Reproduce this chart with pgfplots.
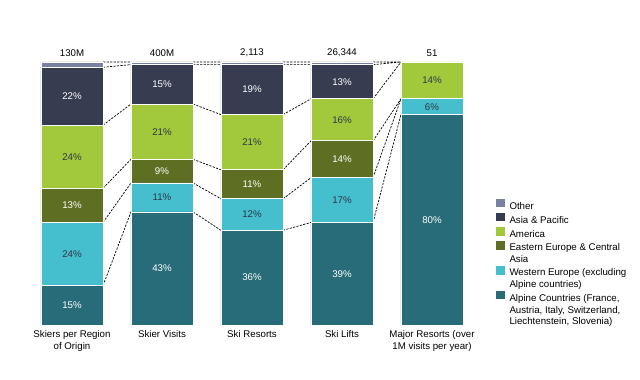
\documentclass[border=0pt]{standalone}
\usepackage{pgfplots}
\pgfplotsset{compat=1.18}
\usepackage{fontspec}
\setmainfont{Liberation Sans}
\definecolor{cOther}{HTML}{7882A0}
\definecolor{cAsia}{HTML}{373C50}
\definecolor{cAmer}{HTML}{A2C83C}
\definecolor{cEast}{HTML}{5E6E23}
\definecolor{cWest}{HTML}{45BECD}
\definecolor{cAlp}{HTML}{276C78}
\definecolor{cDark}{HTML}{2E3648}
\DeclareRobustCommand\ls{\rule[-3.3bp]{0pt}{11.3bp}}
\pgfplotsset{
  base/.style={
    width=640bp, height=380bp, scale only axis,
    xmin=-0.8, xmax=6.31111, ymin=-20.9125, ymax=123.5741,
    enlargelimits=false, hide axis, clip=false, at={(0,0)}, anchor=south west},
}
\tikzset{
  wl/.style={anchor=center, inner sep=0pt, text=white},
  dl/.style={anchor=center, inner sep=0pt, text=cDark},
  tl/.style={anchor=south, inner sep=0pt, yshift=5bp, text=black},
  cl/.style={anchor=north, inner sep=0pt, yshift=-5bp, align=center, text=black},
}
\begin{document}
\fontsize{9.7bp}{12bp}\selectfont
\begin{tikzpicture}[font=\fontsize{9.7bp}{12bp}\selectfont]
\useasboundingbox (0,0) rectangle (640bp,380bp);
% connectors
\begin{axis}[base, unbounded coords=jump]
\addplot[black, line width=0.7bp, dash pattern=on 2.2bp off 1.3bp] coordinates {
(0.345,15)(0.655,43) (nan,nan)
(0.345,39)(0.655,54) (nan,nan)
(0.345,52)(0.655,63) (nan,nan)
(0.345,76)(0.655,84) (nan,nan)
(0.345,98)(0.655,99) (nan,nan)
(0.345,100)(0.655,100) (nan,nan)
(1.345,43)(1.655,36) (nan,nan)
(1.345,54)(1.655,48) (nan,nan)
(1.345,63)(1.655,59) (nan,nan)
(1.345,84)(1.655,80) (nan,nan)
(1.345,99)(1.655,99) (nan,nan)
(1.345,100)(1.655,100) (nan,nan)
(2.345,36)(2.655,39) (nan,nan)
(2.345,48)(2.655,56) (nan,nan)
(2.345,59)(2.655,70) (nan,nan)
(2.345,80)(2.655,86) (nan,nan)
(2.345,99)(2.655,99) (nan,nan)
(2.345,100)(2.655,100) (nan,nan)
(3.345,39)(3.655,80) (nan,nan)
(3.345,56)(3.655,86) (nan,nan)
(3.345,70)(3.655,86) (nan,nan)
(3.345,86)(3.655,100) (nan,nan)
(3.345,99)(3.655,100) (nan,nan)
(3.345,100)(3.655,100)
};
\end{axis}
% bars
\begin{axis}[base, ybar stacked, bar width=0.69, reverse legend,
  legend style={at={(0.775,0.4763)}, anchor=north west, draw=none, fill=none,
    inner sep=0pt, outer sep=0pt, row sep=0.4bp, column sep=2.5bp,
    font=\fontsize{9.7bp}{11.7bp}\selectfont,
    cells={anchor=north west, align=left, inner sep=0pt, outer sep=0pt}},
  legend image code/.code={\fill[#1,draw=none] (0bp,-8bp) rectangle (9bp,0.3bp);}]
\addplot[fill=cAlp, draw=white, line width=0.8bp] coordinates {(0,15)(1,43)(2,36)(3,39)(4,80)};
\addlegendentry{Alpine Countries (France,\ls\\Austria, Italy, Switzerland,\\Liechtenstein, Slovenia)\ls}
\addplot[fill=cWest, draw=white, line width=0.8bp] coordinates {(0,24)(1,11)(2,12)(3,17)(4,6)};
\addlegendentry{Western Europe (excluding\\Alpine countries)\ls}
\addplot[fill=cEast, draw=white, line width=0.8bp] coordinates {(0,13)(1,9)(2,11)(3,14)(4,0)};
\addlegendentry{Eastern Europe \& Central\\Asia\ls}
\addplot[fill=cAmer, draw=white, line width=0.8bp] coordinates {(0,24)(1,21)(2,21)(3,16)(4,14)};
\addlegendentry{America\ls}
\addplot[fill=cAsia, draw=white, line width=0.8bp] coordinates {(0,22)(1,15)(2,19)(3,13)(4,0)};
\addlegendentry{Asia \& Pacific\ls}
\addplot[fill=cOther, draw=white, line width=0.8bp] coordinates {(0,2)(1,1)(2,1)(3,1)(4,0)};
\addlegendentry{Other\ls}
\end{axis}
% labels
\begin{axis}[base]
\node[wl] at (axis cs:0,7.5) {15\%};
\node[wl] at (axis cs:1,21.5) {43\%};
\node[wl] at (axis cs:2,18) {36\%};
\node[wl] at (axis cs:3,19.5) {39\%};
\node[wl] at (axis cs:4,40) {80\%};
\node[wl] at (axis cs:0,45.5) {13\%};
\node[wl] at (axis cs:1,58.5) {9\%};
\node[wl] at (axis cs:2,53.5) {11\%};
\node[wl] at (axis cs:3,63) {14\%};
\node[wl] at (axis cs:0,87) {22\%};
\node[wl] at (axis cs:1,91.5) {15\%};
\node[wl] at (axis cs:2,89.5) {19\%};
\node[wl] at (axis cs:3,92.5) {13\%};
\node[dl] at (axis cs:0,27) {24\%};
\node[dl] at (axis cs:1,48.5) {11\%};
\node[dl] at (axis cs:2,42) {12\%};
\node[dl] at (axis cs:3,47.5) {17\%};
\node[dl] at (axis cs:4,83) {6\%};
\node[dl] at (axis cs:0,64) {24\%};
\node[dl] at (axis cs:1,73.5) {21\%};
\node[dl] at (axis cs:2,69.5) {21\%};
\node[dl] at (axis cs:3,78) {16\%};
\node[dl] at (axis cs:4,93) {14\%};
\node[tl] at (axis cs:0,100) {130M};
\node[tl] at (axis cs:1,100) {400M};
\node[tl] at (axis cs:2,100) {2,113};
\node[tl] at (axis cs:3,100) {26,344};
\node[tl] at (axis cs:4,100) {51};
\node[cl] at (axis cs:0,0) {Skiers per Region\\of Origin};
\node[cl] at (axis cs:1,0) {Skier Visits};
\node[cl] at (axis cs:2,0) {Ski Resorts};
\node[cl] at (axis cs:3,0) {Ski Lifts};
\node[cl] at (axis cs:4,0) {Major Resorts (over\\1M visits per year)};
\end{axis}
\end{tikzpicture}
\end{document}
